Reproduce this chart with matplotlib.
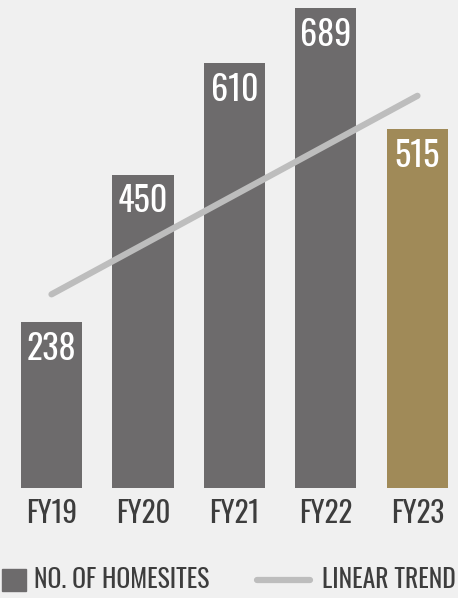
import matplotlib
matplotlib.use("Agg")
import matplotlib.pyplot as plt
from matplotlib.patches import Rectangle
from matplotlib.lines import Line2D

categories = ["FY19", "FY20", "FY21", "FY22", "FY23"]
homesites = [238, 450, 610, 689, 515]
trend_start = 278   # linear trend value at FY19
trend_end = 563     # linear trend value at FY23

GRAY = "#6d6b6c"
GOLD = "#a08a58"
TREND = "#bdbdbd"
BG = "#f0f0f0"
TXT = "#3d3d3d"

plt.rcParams["font.family"] = ["Oswald", "DejaVu Sans"]
WT = 300

W, H = 458, 598
fig = plt.figure(figsize=(W / 100, H / 100), dpi=100, facecolor=BG)
ax = fig.add_axes([0, (H - 488) / H, 1, 488 / H])
ax.set_facecolor(BG)

x = list(range(len(categories)))
colors = [GRAY] * (len(categories) - 1) + [GOLD]
ax.bar(x, homesites, width=0.667, color=colors, zorder=2)

ax.plot([x[0], x[-1]], [trend_start, trend_end], color=TREND, lw=4.5,
        solid_capstyle="round", zorder=3)

for xi, v in zip(x, homesites):
    ax.annotate(str(v), (xi, v), xytext=(0, -7), textcoords="offset points",
                ha="center", va="top", color="white", fontsize=24.5,
                fontweight=WT, zorder=4)

ax.set_xlim(-0.563, 4.443)
ax.set_ylim(0, 700.5)
ax.axis("off")

for xi, c in zip(x, categories):
    ax.annotate(c, (xi, 0), xytext=(0, -18.5), textcoords="offset points",
                ha="center", va="center", color=TXT, fontsize=21,
                fontweight=WT, annotation_clip=False)

# legend
fig.patches.append(Rectangle((2 / W, 1 - 591 / H), 24 / W, 22 / H,
                             transform=fig.transFigure, color=GRAY))
fig.text(34 / W, 1 - 580 / H, "NO. OF HOMESITES", ha="left", va="center",
         color=TXT, fontsize=18.5, fontweight=WT)
fig.lines.append(Line2D([257 / W, 310 / W], [1 - 580 / H, 1 - 580 / H],
                        transform=fig.transFigure, color=TREND, lw=4.5,
                        solid_capstyle="round"))
fig.text(322 / W, 1 - 580 / H, "LINEAR TREND", ha="left", va="center",
         color=TXT, fontsize=18.5, fontweight=WT)

fig.savefig("out.png", dpi=100, facecolor=BG)
